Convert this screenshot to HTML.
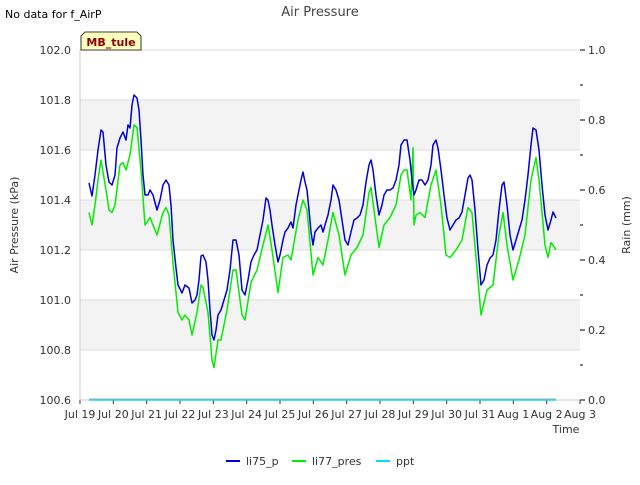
<!DOCTYPE html>
<html><head><meta charset="utf-8"><style>
body{margin:0;background:#fff;font-family:"Liberation Sans","DejaVu Sans",sans-serif}
svg text{font-family:"DejaVu Sans","Liberation Sans",sans-serif}
</style></head><body>
<svg id="c" width="640" height="480" viewBox="0 0 640 480">
<text x="5" y="18" font-size="11" fill="#000">No data for f_AirP</text>
<text x="320" y="16" font-size="13" fill="#444" text-anchor="middle">Air Pressure</text>
<g id="plot"></g>
<text x="18" y="225" font-size="11" fill="#333" text-anchor="middle" transform="rotate(-90 18 225)">Air Pressure (kPa)</text>
<text x="630" y="225" font-size="11" fill="#333" text-anchor="middle" transform="rotate(-90 630 225)">Rain (mm)</text>
<text x="566" y="433" font-size="11" fill="#333" text-anchor="middle">Time</text>
<g>
<path d="M81,50 L81,36 L85,32 L137,32 L141,36 L141,50 Z" fill="#ffffc0" stroke="#000" stroke-width="0.8"/>
<text x="111" y="46" font-size="11" font-weight="bold" fill="#8b0000" text-anchor="middle">MB_tule</text>
</g>
<g>
<g><line x1="226" y1="461" x2="240" y2="461" stroke="#0000dd" stroke-width="2"/><text x="246" y="465" font-size="11" fill="#333">li75_p</text></g>
<g><line x1="292" y1="461" x2="306" y2="461" stroke="#00ee00" stroke-width="2"/><text x="312" y="465" font-size="11" fill="#333">li77_pres</text></g>
<g><line x1="376" y1="461" x2="390" y2="461" stroke="#00ddff" stroke-width="2"/><text x="396" y="465" font-size="11" fill="#333">ppt</text></g>
</g>
</svg>
<script>
const xTickLabels=["Jul 19","Jul 20","Jul 21","Jul 22","Jul 23","Jul 24","Jul 25","Jul 26","Jul 27","Jul 28","Jul 29","Jul 30","Jul 31","Aug 1","Aug 2","Aug 3"];
const yTicks=[100.6,100.8,101.0,101.2,101.4,101.6,101.8,102.0];
const y2Ticks=[0.0,0.2,0.4,0.6,0.8,1.0];
const blueT=[0.27,0.36,0.45,0.54,0.63,0.69,0.78,0.87,0.96,1.05,1.11,1.20,1.29,1.38,1.44,1.50,1.56,1.62,1.71,1.77,1.83,1.89,1.95,2.04,2.10,2.19,2.31,2.40,2.49,2.58,2.67,2.73,2.79,2.88,2.94,3.06,3.15,3.27,3.36,3.45,3.51,3.57,3.63,3.69,3.78,3.84,3.90,3.96,4.02,4.08,4.14,4.23,4.32,4.41,4.50,4.59,4.68,4.77,4.86,4.95,5.04,5.13,5.22,5.31,5.40,5.49,5.58,5.64,5.70,5.76,5.85,5.94,6.00,6.09,6.15,6.24,6.33,6.39,6.48,6.54,6.63,6.69,6.75,6.81,6.87,6.93,6.99,7.05,7.14,7.23,7.29,7.35,7.44,7.53,7.59,7.68,7.77,7.86,7.95,8.04,8.13,8.22,8.31,8.40,8.49,8.58,8.67,8.73,8.79,8.88,8.97,9.06,9.12,9.21,9.30,9.39,9.48,9.57,9.63,9.72,9.81,9.90,9.96,10.02,10.08,10.17,10.26,10.35,10.44,10.53,10.59,10.68,10.74,10.83,10.92,11.01,11.10,11.19,11.28,11.37,11.46,11.55,11.64,11.70,11.76,11.85,11.94,12.03,12.12,12.21,12.30,12.39,12.48,12.57,12.66,12.72,12.81,12.90,12.99,13.08,13.17,13.26,13.35,13.44,13.53,13.59,13.68,13.77,13.86,13.95,14.04,14.13,14.19,14.28];
const blueV=[101.468,101.416,101.500,101.600,101.680,101.672,101.540,101.472,101.460,101.500,101.608,101.648,101.672,101.640,101.700,101.688,101.780,101.820,101.808,101.760,101.640,101.500,101.420,101.420,101.440,101.420,101.360,101.400,101.460,101.480,101.460,101.380,101.240,101.128,101.060,101.028,101.060,101.048,100.988,101.000,101.020,101.080,101.176,101.180,101.152,101.080,100.960,100.860,100.840,100.880,100.940,100.960,101.000,101.040,101.120,101.240,101.240,101.180,101.040,101.020,101.080,101.152,101.180,101.200,101.260,101.320,101.408,101.400,101.360,101.300,101.220,101.152,101.180,101.240,101.272,101.288,101.312,101.288,101.380,101.420,101.480,101.512,101.472,101.440,101.360,101.272,101.220,101.272,101.288,101.300,101.272,101.300,101.340,101.400,101.460,101.440,101.400,101.320,101.240,101.220,101.272,101.320,101.328,101.340,101.380,101.472,101.540,101.560,101.520,101.420,101.340,101.380,101.420,101.440,101.440,101.448,101.480,101.540,101.620,101.640,101.640,101.560,101.480,101.420,101.440,101.480,101.480,101.460,101.480,101.540,101.620,101.640,101.608,101.520,101.420,101.328,101.280,101.300,101.320,101.328,101.352,101.420,101.488,101.500,101.480,101.360,101.200,101.060,101.080,101.140,101.168,101.180,101.240,101.360,101.460,101.472,101.380,101.260,101.200,101.240,101.280,101.320,101.400,101.500,101.620,101.688,101.680,101.600,101.460,101.340,101.280,101.320,101.352,101.328];
const greenT=[0.27,0.36,0.45,0.54,0.63,0.78,0.87,0.96,1.05,1.20,1.29,1.38,1.50,1.62,1.71,1.83,1.95,2.10,2.19,2.31,2.49,2.58,2.67,2.79,2.94,3.06,3.15,3.27,3.36,3.51,3.63,3.69,3.84,3.96,4.02,4.14,4.23,4.41,4.59,4.68,4.86,4.95,5.13,5.31,5.49,5.64,5.76,5.94,6.09,6.24,6.33,6.54,6.69,6.81,6.99,7.14,7.29,7.44,7.59,7.77,7.95,8.13,8.31,8.49,8.67,8.73,8.88,8.97,9.12,9.30,9.48,9.63,9.72,9.81,9.93,9.99,10.02,10.08,10.20,10.35,10.53,10.68,10.83,10.98,11.10,11.28,11.46,11.64,11.76,11.94,12.03,12.21,12.39,12.57,12.69,12.81,12.99,13.17,13.35,13.53,13.68,13.77,13.95,14.04,14.13,14.28];
const greenV=[101.35,101.30,101.38,101.48,101.56,101.44,101.36,101.35,101.38,101.54,101.55,101.52,101.58,101.70,101.69,101.52,101.30,101.33,101.30,101.26,101.35,101.37,101.34,101.15,100.95,100.92,100.94,100.92,100.86,100.95,101.06,101.05,100.95,100.76,100.73,100.84,100.84,100.96,101.12,101.12,100.94,100.92,101.07,101.12,101.22,101.30,101.20,101.03,101.17,101.18,101.16,101.32,101.40,101.36,101.10,101.17,101.14,101.24,101.35,101.26,101.10,101.18,101.21,101.26,101.43,101.45,101.30,101.21,101.30,101.33,101.38,101.50,101.52,101.52,101.40,101.61,101.30,101.34,101.35,101.33,101.46,101.52,101.38,101.18,101.17,101.20,101.24,101.37,101.35,101.08,100.94,101.04,101.06,101.26,101.35,101.22,101.08,101.16,101.26,101.48,101.57,101.48,101.22,101.17,101.23,101.20];
const pptT=[0.27,14.28];
const pptV=[0,0];

const NS="http://www.w3.org/2000/svg";
const L=80,R=580,T=50,B=400;
const xs=d=>L+d*(R-L)/15;
const ys=v=>B-(v-100.6)*(B-T)/1.4;
const y2s=v=>B-v*(B-T)/1.0;
const g=document.getElementById('plot');
function mk(tag,attrs,parent){const e=document.createElementNS(NS,tag);for(const k in attrs)e.setAttribute(k,attrs[k]);(parent||g).appendChild(e);return e;}
// bands
for(let i=0;i<yTicks.length-1;i++){
  if(i%2===1){const r=mk('rect',{x:L,y:ys(yTicks[i+1]),width:R-L,height:ys(yTicks[i])-ys(yTicks[i+1]),fill:'#f3f3f3'});
  
  }
}
yTicks.forEach(v=>{const l=mk('line',{x1:L,x2:R,y1:ys(v),y2:ys(v),stroke:'#dddddd','stroke-width':1});


const t=mk('text',{x:L-9,y:ys(v)+4,'font-size':11,fill:'#333','text-anchor':'end'});t.textContent=v.toFixed(1);

});
xTickLabels.forEach((s,i)=>{const t=mk('text',{x:xs(i),y:418,'font-size':11,fill:'#333','text-anchor':'middle'});t.textContent=s;


mk('line',{x1:xs(i),x2:xs(i),y1:B,y2:B+4,stroke:'#333'});});
y2Ticks.forEach(v=>{mk('line',{x1:R,x2:R+5,y1:y2s(v),y2:y2s(v),stroke:'#000'});
const t=mk('text',{x:R+8,y:y2s(v)+4,'font-size':11,fill:'#333'});t.textContent=v.toFixed(1);

});
for(let v=0.1;v<1;v+=0.2)mk('line',{x1:R,x2:R+3,y1:y2s(v),y2:y2s(v),stroke:'#000'});
mk('line',{x1:L,x2:L,y1:T,y2:B,stroke:'#ccc'});
mk('line',{x1:L,x2:R,y1:B,y2:B,stroke:'#ccc'});
function series(t,v,sc,color,name){const p=mk('polyline',{points:t.map((d,i)=>xs(d).toFixed(1)+','+sc(v[i]).toFixed(1)).join(' '),fill:'none',stroke:color,'stroke-width':1.5,'stroke-linejoin':'round'});

}
series(pptT,pptV,y2s,'#00ddff','series-ppt');
mk('line',{x1:xs(0.27),x2:xs(14.28),y1:B-1,y2:B-1,stroke:'#aaaaaa','stroke-width':1});
series(greenT,greenV,ys,'#00ee00','series-li77-pres');
series(blueT,blueV,ys,'#0000dd','series-li75-p');
</script>
</body></html>
